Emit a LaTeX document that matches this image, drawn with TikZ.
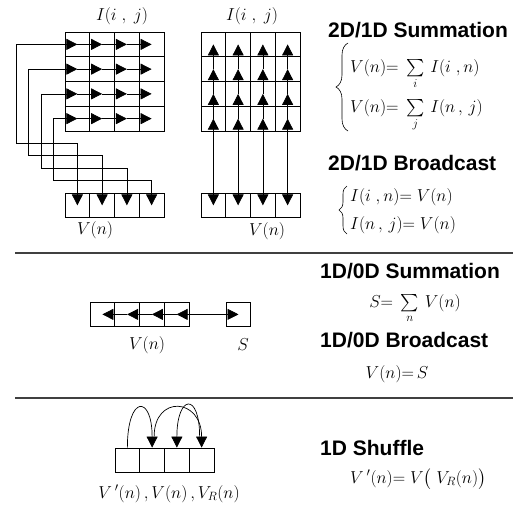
\documentclass[tikz,border=0pt]{standalone}
\usepackage{fontspec}
\setsansfont{Liberation Sans}
\usepackage{amsmath}
\usetikzlibrary{arrows.meta,calc,decorations.pathreplacing}
\newcommand{\CellW}{24.75}

\begin{document}
\begin{tikzpicture}[
    x=1pt, y=-1pt,
    cell/.style={rectangle, draw, line width=0.8pt, minimum size=\CellW pt, inner sep=0pt},
    flow/.style={-{Triangle[length=11pt,width=11pt]}, line width=0.7pt},
    twoway/.style={{Triangle[length=11pt,width=11pt]}-{Triangle[length=11pt,width=11pt]}, line width=0.7pt},
    lbl/.style={font=\fontsize{18}{22}\selectfont, inner sep=0pt, anchor=base},
    eqn/.style={font=\fontsize{18}{22}\selectfont, inner sep=0pt, anchor=base west},
    title/.style={font=\fontsize{21}{25}\sffamily\bfseries, inner sep=0pt, anchor=base west},
    brc/.style={decorate, decoration={brace, amplitude=#1}, line width=0.6pt},
    divider/.style={line width=1.2pt, black!75},
  ]
  \useasboundingbox (0,0) rectangle (516,507);

  % 2D -> 1D summation grid
  \foreach \r in {1,...,4}
    \foreach \c in {1,...,4}
      \node[cell] (L-\r-\c) at ({65+\CellW*(\c-0.5)},{32+\CellW*(\r-0.5)}) {};
  \foreach \c in {1,...,4}
    \node[cell] (LV-\c) at ({65+\CellW*(\c-0.5)},{193+\CellW/2}) {};
  \foreach \r/\x/\h in {1/16/143, 2/28.5/155.5, 3/41/168, 4/53/180.5} {
    \coordinate (in-\r) at (\x,{32+\CellW*(\r-0.5)});
    \coordinate (dn-\r) at ({65+\CellW*(\r-0.5)},\h);
    \draw[flow] (in-\r) |- (dn-\r) -- (LV-\r.center);
    \draw[flow] (in-\r) -- (L-\r-1.center);
    \foreach \c/\n in {1/2,2/3,3/4}
      \draw[flow] (L-\r-\c.center) -- (L-\r-\n.center);
  }

  % 1D -> 2D broadcast grid
  \foreach \r in {1,...,4}
    \foreach \c in {1,...,4}
      \node[cell] (R-\r-\c) at ({201+\CellW*(\c-0.5)},{32+\CellW*(\r-0.5)}) {};
  \foreach \c in {1,...,4} {
    \node[cell] (RV-\c) at ({201+\CellW*(\c-0.5)},{193+\CellW/2}) {};
    \draw[twoway] (RV-\c.center) -- (R-4-\c.center);
    \foreach \r/\n in {4/3,3/2,2/1}
      \draw[flow] (R-\r-\c.center) -- (R-\n-\c.center);
  }

  \node[lbl] (iL) at (122,20) {$I(i\;,\;j)$};
  \node[lbl] (iR) at (252,20) {$I(i\;,\;j)$};
  \node[lbl] (vL) at (95,234) {$V(n)$};
  \node[lbl] (vR) at (267,235) {$V(n)$};

  \node[title] (t1) at (328,37) {2D/1D Summation};
  \node[eqn] (e1) at (350,72) {$V(n){=}\;\sum\limits_i \,I(i\;,n)$};
  \node[eqn] (e2) at (350,112) {$V(n){=}\;\sum\limits_j \,I(n\,,\,j)$};
  \draw[brc=12pt] (348,131) -- (348,43);
  \node[title] (t2) at (328,170) {2D/1D Broadcast};
  \node[eqn] (e3) at (350,201) {$I(i\;,n){=}\;V(n)$};
  \node[eqn] (e4) at (350,229) {$I(n\,,\,j){=}\;V(n)$};
  \draw[brc=8pt] (347,234) -- (347,186);

  \draw[divider] (15,253) -- (513,253);

  % 1D -> 0D
  \foreach \c in {1,...,4}
    \node[cell] (D-\c) at ({90+\CellW*(\c-0.5)},{302+\CellW/2}) {};
  \node[cell] (S) at (238.5,{302+\CellW/2}) {};
  \draw[twoway] (D-4.center) -- (S.center);
  \foreach \c/\n in {4/3,3/2,2/1}
    \draw[flow] (D-\c.center) -- (D-\n.center);
  \node[lbl] (vD) at (147,349) {$V(n)$};
  \node[lbl] (sD) at (243,350) {$S$};

  \node[title] (t3) at (320,278) {1D/0D Summation};
  \node[lbl] (e5) at (415,307) {$S{=}\;\sum\limits_n \,V(n)$};
  \node[title] (t4) at (320,347) {1D/0D Broadcast};
  \node[lbl] (e6) at (397,378.5) {$V(n){=}\,S$};

  \draw[divider] (15,398) -- (513,398);

  % shuffle
  \foreach \c in {1,...,4}
    \node[cell] (H-\c) at ({115+\CellW*(\c-0.5)},{448+\CellW/2}) {};
  \draw[flow] (H-1.north) .. controls +(0,-53) and +(0,-53) .. (H-2.north);
  \draw[flow] ($(H-2.north)+(2,-11)$) .. controls +(0,-42) and +(0,-50) .. (H-4.north);
  \draw[flow] ($(H-4.north)+(-2,-11)$) .. controls +(0,-45) and +(0,-53) .. (H-3.north);
  \node[lbl] (vH) at (169,498) {$V\,'(n)\,,V(n)\,,V_R(n)$};

  \node[title] (t5) at (320,455) {1D Shuffle};
  \node[eqn] (e7) at (350,483) {$V\,'(n){=}\;V\big(\;V_R(n)\big)$};
\end{tikzpicture}
\end{document}
